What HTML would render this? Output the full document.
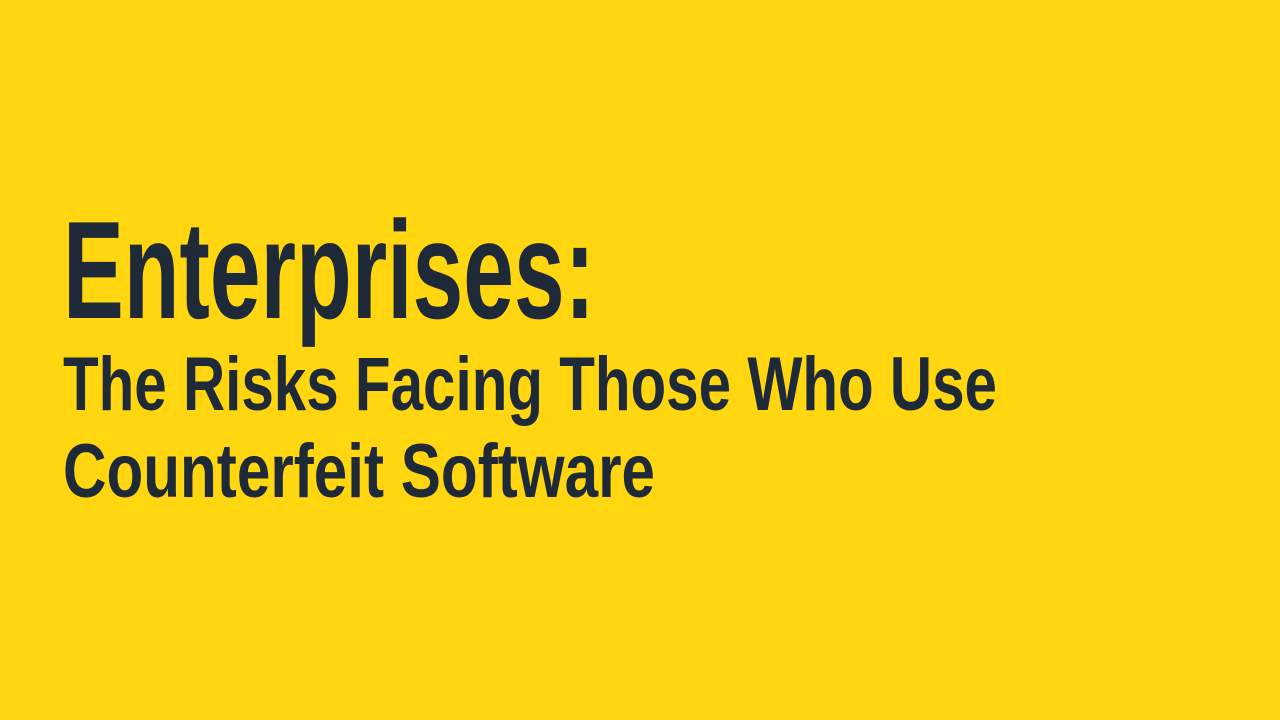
<!DOCTYPE html>
<html><head><meta charset="utf-8"><style>
html,body{margin:0;padding:0;background:#FFD60F;}
svg{display:block}
</style></head><body>
<svg width="1280" height="720" xmlns="http://www.w3.org/2000/svg">
<rect width="1280" height="720" fill="#FFD60F"/>
<g fill="#1F2A38" font-family="Liberation Sans, Arial, sans-serif" font-weight="bold">
<text x="63" y="318" font-size="139" textLength="532" lengthAdjust="spacingAndGlyphs">Enterprises:</text>
<text x="63" y="410" font-size="76" textLength="934" lengthAdjust="spacingAndGlyphs">The Risks Facing Those Who Use</text>
<text x="63" y="497" font-size="76" textLength="592" lengthAdjust="spacingAndGlyphs">Counterfeit Software</text>
</g>
</svg>
</body></html>
